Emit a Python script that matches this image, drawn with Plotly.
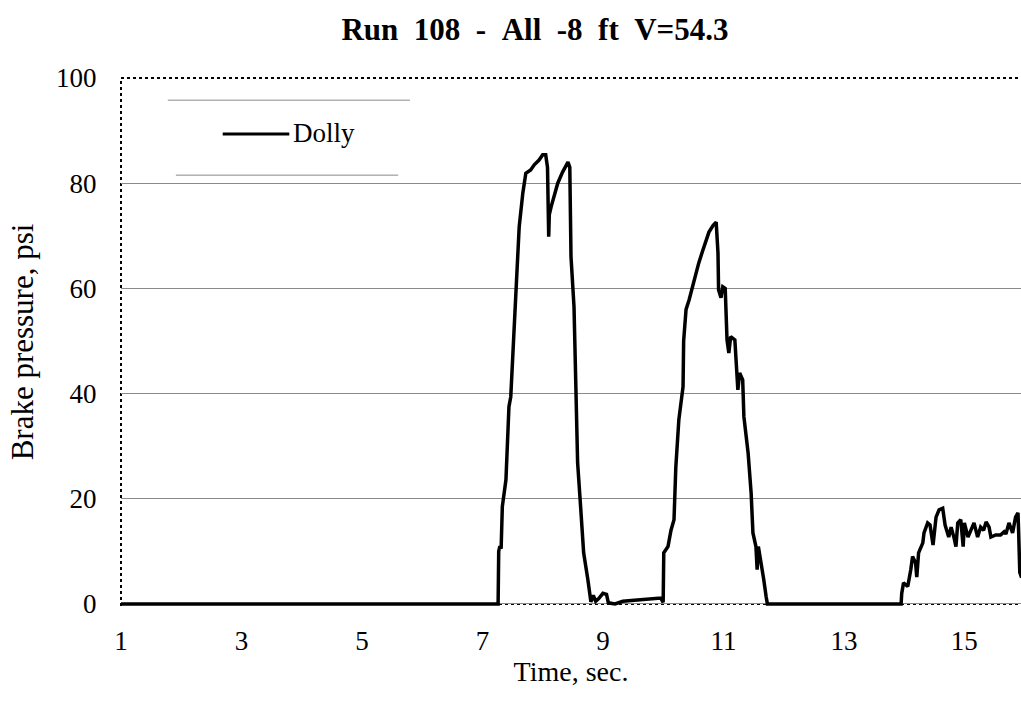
import plotly.graph_objects as go

# Dolly brake pressure record, Run 108
series_name = "Dolly"
time_s = [
    1.00, 7.26, 7.27, 7.29, 7.31, 7.33, 7.39, 7.44, 7.47, 7.53, 7.57, 7.61,
    7.67, 7.72, 7.80, 7.86, 7.94, 8.00, 8.05, 8.08, 8.10, 8.11, 8.14, 8.19,
    8.25, 8.33, 8.42, 8.45, 8.47, 8.52, 8.57, 8.58, 8.63, 8.68, 8.75, 8.80,
    8.84, 8.88, 8.93, 9.00, 9.06, 9.09, 9.20, 9.33, 9.62, 9.96, 10.00,
    10.01, 10.08, 10.13, 10.18, 10.21, 10.26, 10.33, 10.34, 10.38, 10.43,
    10.49, 10.54, 10.59, 10.66, 10.71, 10.76, 10.83, 10.88, 10.91, 10.92,
    10.96, 10.99, 11.03, 11.06, 11.09, 11.12, 11.19, 11.22, 11.24, 11.27,
    11.32, 11.34, 11.41, 11.46, 11.49, 11.54, 11.56, 11.58, 11.62, 11.67,
    11.71, 11.73, 13.95, 13.96, 13.99, 14.06, 14.11, 14.14, 14.19, 14.21,
    14.24, 14.31, 14.33, 14.39, 14.43, 14.48, 14.53, 14.58, 14.64, 14.66,
    14.68, 14.74, 14.78, 14.83, 14.86, 14.89, 14.94, 14.98, 15.00, 15.06,
    15.11, 15.16, 15.22, 15.27, 15.32, 15.36, 15.41, 15.44, 15.52, 15.60,
    15.66, 15.69, 15.74, 15.80, 15.85, 15.89, 15.90, 15.92, 15.95,
]
pressure_psi = [
    0.0, 0.0, 10.0, 11.0, 10.5, 18.5, 23.6, 37.5, 39.4, 53.4, 64.0, 71.7,
    78.1, 81.9, 82.5, 83.5, 84.4, 85.4, 85.4, 83.0, 69.8, 74.0, 75.5, 77.4,
    80.0, 82.1, 84.0, 83.0, 66.0, 56.5, 35.6, 26.8, 18.4, 9.7, 4.6, 0.4,
    1.6, 0.5, 1.0, 2.0, 1.8, 0.2, 0.0, 0.5, 0.8, 1.1, 0.3,
    9.7, 10.9, 14.0, 16.0, 26.0, 35.0, 41.3, 50.0, 56.0, 57.8,
    60.3, 63.0, 64.8, 67.3, 69.2, 70.7, 72.0, 72.6, 66.7, 59.7,
    58.2, 60.3, 60.0, 50.2, 47.7, 50.8, 50.2, 42.6, 40.7, 43.9,
    42.6, 35.6, 28.7, 21.1, 13.5, 10.9, 6.5, 10.9, 8.4, 4.6,
    1.3, 0.0, 0.0, 2.0, 4.0, 3.3, 6.5, 9.0, 7.8, 5.1,
    9.7, 11.6, 13.5, 15.4, 15.0, 11.2, 16.5, 17.9, 18.2, 16.0,
    15.0, 12.7, 14.6, 12.5, 10.9, 15.4, 16.0, 10.9, 15.4, 12.7,
    14.0, 15.4, 12.7, 14.6, 14.0, 15.6, 14.6, 12.7, 13.1, 13.1,
    13.7, 13.3, 15.4, 13.5, 16.5, 17.3, 14.0, 6.0, 5.0,
]
x_ticks = [1, 3, 5, 7, 9, 11, 13, 15]
y_ticks = [0, 20, 40, 60, 80, 100]

serif = "Liberation Serif, Times New Roman, serif"
nb = "\u00a0"

fig = go.Figure()
fig.add_trace(go.Scatter(
    x=time_s, y=pressure_psi, mode="lines", name=series_name,
    line=dict(color="black", width=3.5), showlegend=False,
))

# dotted frame on the left, top and bottom of the plot area
frame = dict(type="line", line=dict(color="black", width=2, dash="dot"), layer="below")
fig.add_shape(xref="paper", yref="paper", x0=0, x1=0, y0=0, y1=1, **frame)
fig.add_shape(xref="paper", yref="paper", x0=0, x1=1, y0=1, y1=1, **frame)
fig.add_shape(xref="paper", yref="y", x0=0, x1=1, y0=0, y1=0, **frame)

# legend box edges and key
grey = dict(color="#8a8a8a", width=1)
fig.add_shape(type="line", xref="paper", yref="paper", x0=0.052, x1=0.321,
              y0=0.958, y1=0.958, line=grey)
fig.add_shape(type="line", xref="paper", yref="paper", x0=0.061, x1=0.308,
              y0=0.816, y1=0.816, line=grey)
fig.add_shape(type="line", xref="paper", yref="paper", x0=0.113, x1=0.187,
              y0=0.894, y1=0.894, line=dict(color="black", width=3))
fig.add_annotation(xref="paper", yref="paper", x=0.189, y=0.896, text=series_name,
                   showarrow=False, xanchor="left", yanchor="middle",
                   font=dict(family=serif, size=27, color="black"))

fig.update_layout(
    width=1021, height=702,
    margin=dict(l=121, r=0, t=78, b=96),
    paper_bgcolor="white", plot_bgcolor="white",
    title=dict(
        text=f"<b>Run{nb}{nb}108{nb}{nb}-{nb}{nb}All{nb}{nb}-8{nb}{nb}ft{nb}{nb}V=54.3</b>",
        x=0.524, xref="container", xanchor="center",
        y=0.958, yref="container", yanchor="middle",
        font=dict(family=serif, size=31, color="black"),
    ),
    font=dict(family=serif, size=27, color="black"),
    xaxis=dict(
        range=[1, 15.94], tickvals=x_ticks, showgrid=False, zeroline=False,
        showline=False, ticks="outside", ticklen=11, tickcolor="rgba(0,0,0,0)",
        tickfont=dict(family=serif, size=27),
        title=dict(text="Time, sec.", font=dict(family=serif, size=28), standoff=4),
    ),
    yaxis=dict(
        range=[-0.4, 100], tickvals=y_ticks, showgrid=True, gridcolor="#8a8a8a",
        gridwidth=1, zeroline=False, showline=False, ticks="outside", ticklen=18,
        tickcolor="rgba(0,0,0,0)", tickfont=dict(family=serif, size=27),
        title=dict(text="Brake pressure, psi", font=dict(family=serif, size=31), standoff=13),
    ),
)

fig.write_html("out.html")
